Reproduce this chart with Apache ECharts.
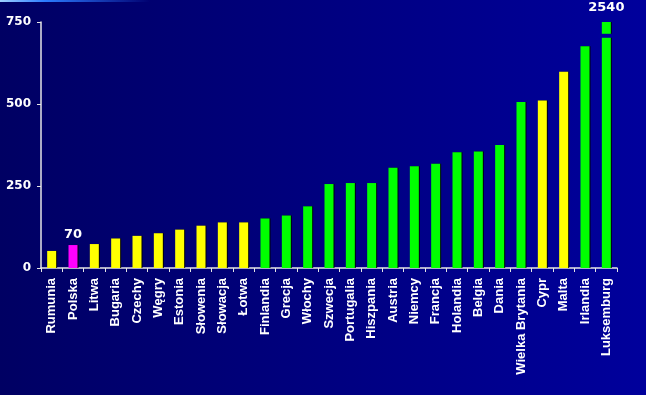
<!DOCTYPE html>
<html><head><meta charset="utf-8">
<script src="https://cdn.jsdelivr.net/npm/echarts@6/dist/echarts.min.js"></script>
<style>html,body{margin:0;padding:0;background:#000066}#c{width:646px;height:396px}</style>
</head><body><div id="c"></div>
<script>
const categories = ['Rumunia','Polska','Litwa','Bugaria','Czechy','Węgry','Estonia','Słowenia','Słowacja','Łotwa','Finlandia','Grecja','Włochy','Szwecja','Portugalia','Hiszpania','Austria','Niemcy','Francja','Holandia','Belgia','Dania','Wielka Brytania','Cypr','Malta','Irlandia','Luksemburg'];
const values = [52,70,73,90,98,106,117,129,139,139,151,160,188,256,259,259,306,310,318,353,355,375,506,511,598,676,2540];
const groups = ['new','pl','new','new','new','new','new','new','new','new','old','old','old','old','old','old','old','old','old','old','old','old','old','new','new','old','old'];
const labelledCategories = ['Polska','Luksemburg'];
const yMin = 0, yMax = 750, yInterval = 250;
const breakValue = 708;

const colors = {
  new: {fill:'#ffff00', edge:'#7a6a00'},
  pl:  {fill:'#ff00ff', edge:'#ff00ff'},
  old: {fill:'#00ff00', edge:'#008a00'}
};

const chart = echarts.init(document.getElementById('c'), null, {renderer:'canvas'});

const data = values.map((v,i)=>{
  const c = colors[groups[i]];
  const item = {
    value: v,
    itemStyle: {color:c.fill, borderColor:c.edge, borderWidth:0, shadowColor:'rgba(0,0,0,0.9)', shadowOffsetX:1, shadowOffsetY:0, shadowBlur:0}
  };
  if (labelledCategories.includes(categories[i])) {
    item.label = {show:true, position:'top', distance: categories[i]==='Luksemburg'?8:4,
      color:'#ffffff', fontWeight:'bold', fontSize:13, fontFamily:'DejaVu Sans'};
  }
  return item;
});

const decor = (extra)=>[
  {type:'rect', shape:{x:0,y:0,width:150,height:2}, style:{fill:new echarts.graphic.LinearGradient(0,0,1,0,[{offset:0,color:'#9fd0ff'},{offset:0.3,color:'#2c7cff'},{offset:1,color:'#000070'}])}},
  {type:'rect', shape:{x:0,y:395,width:646,height:1}, style:{fill:'#ffffff'}}
].concat(extra||[]);

chart.setOption({
  animation:false,
  backgroundColor: new echarts.graphic.LinearGradient(0,0,1,0,[{offset:0,color:'#000063'},{offset:1,color:'#00009c'}]),
  grid:{left:41, right:29, top:22, bottom:128},
  xAxis:{
    type:'category', data:categories,
    axisLine:{lineStyle:{color:'#e6e6e6', width:1.5}},
    axisTick:{show:true, length:4, lineStyle:{color:'#e6e6e6'}},
    axisLabel:{rotate:90, margin:10, interval:0, color:'#ffffff', fontWeight:'bold', fontSize:13, fontFamily:'Liberation Sans, Arial'}
  },
  yAxis:{
    type:'value', min:yMin, max:yMax, interval:yInterval,
    axisLine:{show:true, lineStyle:{color:'#e6e6e6', width:1.5}},
    axisTick:{show:true, length:4, lineStyle:{color:'#e6e6e6'}},
    splitLine:{show:false},
    axisLabel:{margin:10, color:'#ffffff', fontWeight:'bold', fontSize:12, fontFamily:'DejaVu Sans'}
  },
  series:[{
    type:'bar', data:data, barWidth:9, clip:true,
    label:{formatter:'{c}'}
  }],
  graphic: decor()
});

// break mark on the out-of-scale bar
const lux = categories.indexOf('Luksemburg');
const p = chart.convertToPixel({seriesIndex:0}, [lux, breakValue]);
chart.setOption({graphic: decor([
  {type:'rect', z:100, shape:{x:p[0]-8, y:p[1]-2, width:16, height:4}, style:{fill:'#00009a'}}
])});
</script></body></html>
